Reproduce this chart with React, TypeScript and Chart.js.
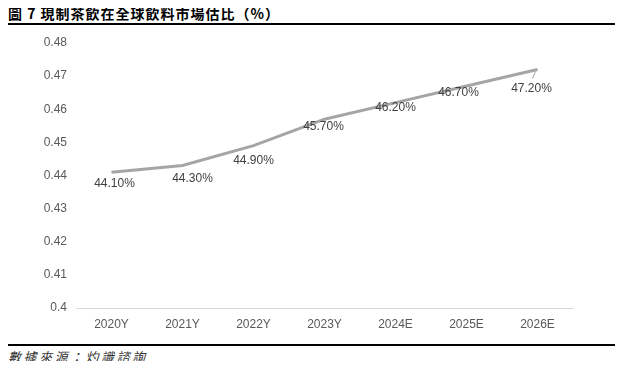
import React, { useEffect, useRef } from "react";
import { Chart, registerables } from "chart.js";

Chart.register(...registerables);

const categories = ["2020Y", "2021Y", "2022Y", "2023Y", "2024E", "2025E", "2026E"];
const shareValues = [0.441, 0.443, 0.449, 0.457, 0.462, 0.467, 0.472];
const shareLabels = ["44.10%", "44.30%", "44.90%", "45.70%", "46.20%", "46.70%", "47.20%"];
const yTicksMin = 0.4;
const yTicksMax = 0.48;
const yTicksStep = 0.01;

// label placement offsets (style, px) relative to each point
const labelDx = [3, 10, 0, -1, 0, -8, -6];
const labelDy = [11, 13, 15, 7, 5, 7, 19];

const TITLE = "圖 7 現制茶飲在全球飲料市場估比（%）";
const SOURCE = "數據來源：灼識諮詢";

const dataLabelPlugin = {
  id: "dataLabelPlugin",
  afterDatasetsDraw(chart: any) {
    const ctx = chart.ctx;
    const meta = chart.getDatasetMeta(0);
    ctx.save();
    ctx.font = "12px 'Liberation Sans', Arial, sans-serif";
    ctx.fillStyle = "#404040";
    ctx.textAlign = "center";
    ctx.textBaseline = "middle";
    meta.data.forEach((pt: any, i: number) => {
      const x = pt.x + labelDx[i];
      const y = pt.y + labelDy[i];
      if (i === meta.data.length - 1) {
        ctx.strokeStyle = "#A5A5A5";
        ctx.lineWidth = 1;
        ctx.beginPath();
        ctx.moveTo(pt.x - 2, pt.y + 2);
        ctx.lineTo(pt.x - 5, pt.y + 9);
        ctx.stroke();
      }
      ctx.fillText(shareLabels[i], x, y);
    });
    ctx.restore();
  },
};

export default function App() {
  const canvasRef = useRef<HTMLCanvasElement | null>(null);

  useEffect(() => {
    if (!canvasRef.current) return;
    const chart = new Chart(canvasRef.current, {
      type: "line",
      data: {
        labels: categories,
        datasets: [
          {
            data: shareValues,
            borderColor: "#A5A5A5",
            borderWidth: 3,
            pointRadius: 0,
            tension: 0,
            fill: false,
          },
        ],
      },
      options: {
        animation: false,
        responsive: false,
        maintainAspectRatio: false,
        layout: { padding: { left: 0, right: 42, top: 13, bottom: 0 } },
        plugins: {
          legend: { display: false },
          tooltip: { enabled: false },
          title: { display: false },
        },
        scales: {
          x: {
            offset: true,
            grid: { display: false, drawTicks: false },
            border: { display: true, color: "#D9D9D9", width: 1 },
            ticks: {
              color: "#595959",
              font: { family: "'Liberation Sans', Arial, sans-serif", size: 12 },
              padding: 9,
              maxRotation: 0,
            },
            afterFit(scale: any) {
              scale.height = 27;
            },
          },
          y: {
            min: yTicksMin,
            max: yTicksMax,
            grid: { display: false, drawTicks: false },
            border: { display: false },
            ticks: {
              stepSize: yTicksStep,
              color: "#595959",
              font: { family: "'Liberation Sans', Arial, sans-serif", size: 12, lineHeight: 0.5 },
              padding: 9,
              callback: (v: any) => String(+Number(v).toFixed(2)),
            },
            afterFit(scale: any) {
              scale.width = 68;
            },
          },
        },
      },
      plugins: [dataLabelPlugin],
    });
    return () => chart.destroy();
  }, []);

  return (
    <div style={{ position: "relative", width: 607, height: 353 }}>
      <div
        style={{
          position: "absolute",
          left: 0,
          top: -3,
          fontFamily: "'Noto Sans CJK TC', 'Noto Sans CJK SC', sans-serif",
          fontWeight: 700,
          fontSize: 14,
          lineHeight: "16px",
          letterSpacing: 1,
          color: "#000",
          whiteSpace: "nowrap",
        }}
      >
        {TITLE}
      </div>
      <div style={{ position: "absolute", left: 0, top: 15, width: 607, height: 2, background: "#000" }} />
      <canvas
        ref={canvasRef}
        width={607}
        height={305}
        style={{ position: "absolute", left: 0, top: 22, width: 607, height: 305 }}
      />
      <div style={{ position: "absolute", left: 0, top: 336, width: 607, height: 2, background: "#000" }} />
      <div
        style={{
          position: "absolute",
          left: 0,
          top: 341,
          fontFamily: "'Noto Sans CJK TC', 'Noto Sans CJK SC', sans-serif",
          fontStyle: "italic",
          fontSize: 13,
          lineHeight: "16px",
          letterSpacing: 2.5,
          color: "#333",
          whiteSpace: "nowrap",
        }}
      >
        {SOURCE}
      </div>
    </div>
  );
}
